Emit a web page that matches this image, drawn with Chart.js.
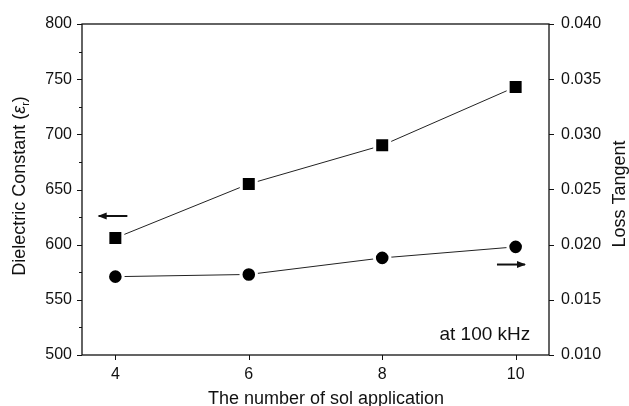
<!DOCTYPE html>
<html>
<head>
<meta charset="utf-8">
<script src="https://cdn.jsdelivr.net/npm/chart.js@4.4.1/dist/chart.umd.min.js"></script>
<style>
    html, body { margin: 0; padding: 0; background: #fff; }
    #wrap { width: 629px; height: 406px; }
</style>
</head>
<body>
<div id="wrap"><canvas id="chart" width="629" height="406"></canvas></div>
<script>
// ================= DATA =================
const solLayers = [4, 6, 8, 10];
const dielectricConst = [606, 655, 690, 743];
const lossTangent = [0.0171, 0.0173, 0.0188, 0.0198];

const xTicks = [4, 6, 8, 10];
const leftTicks = [500, 550, 600, 650, 700, 750, 800];
const leftMinor = [525, 575, 625, 675, 725, 775];
const rightTicks = [0.010, 0.015, 0.020, 0.025, 0.030, 0.035, 0.040];

const FONT = '"Liberation Sans", Arial, Helvetica, sans-serif';
const INK = '#111';

// ================= AXES / ANNOTATIONS =================
function arrow(ctx, x1, x2, y, headLeft) {
    const head = 8, half = 3.5;
    ctx.lineWidth = 2;
    ctx.beginPath();
    ctx.moveTo(x1, y);
    ctx.lineTo(x2, y);
    ctx.stroke();
    ctx.beginPath();
    if (headLeft) {
        ctx.moveTo(x1 - 1, y);
        ctx.lineTo(x1 + head, y - half);
        ctx.lineTo(x1 + head, y + half);
    } else {
        ctx.moveTo(x2 + 1, y);
        ctx.lineTo(x2 - head, y - half);
        ctx.lineTo(x2 - head, y + half);
    }
    ctx.closePath();
    ctx.fill();
}

const paperAxes = {
    id: 'paperAxes',
    afterDraw(chart) {
        const { ctx, chartArea: a, scales } = chart;
        const sx = scales.x, sl = scales.y, sr = scales.y2;
        ctx.save();
        ctx.strokeStyle = INK;
        ctx.fillStyle = INK;

        // frame
        ctx.lineWidth = 1.3;
        ctx.strokeRect(a.left, a.top, a.right - a.left, a.bottom - a.top);

        // ticks
        ctx.lineWidth = 1;
        ctx.beginPath();
        xTicks.forEach(v => {
            const px = Math.round(sx.getPixelForValue(v)) + 0.5;
            ctx.moveTo(px, a.bottom); ctx.lineTo(px, a.bottom + 5);
        });
        leftTicks.forEach(v => {
            const py = Math.round(sl.getPixelForValue(v)) + 0.5;
            ctx.moveTo(a.left - 5, py); ctx.lineTo(a.left, py);
        });
        leftMinor.forEach(v => {
            const py = Math.round(sl.getPixelForValue(v)) + 0.5;
            ctx.moveTo(a.left - 3, py); ctx.lineTo(a.left, py);
        });
        rightTicks.forEach(v => {
            const py = Math.round(sr.getPixelForValue(v)) + 0.5;
            ctx.moveTo(a.right, py); ctx.lineTo(a.right + 5, py);
        });
        ctx.stroke();

        // tick labels
        ctx.font = '16px ' + FONT;
        ctx.textBaseline = 'middle';
        ctx.textAlign = 'right';
        leftTicks.forEach(v => ctx.fillText(String(v), a.left - 10, sl.getPixelForValue(v)));
        ctx.textAlign = 'left';
        rightTicks.forEach(v => ctx.fillText(v.toFixed(3), a.right + 12, sr.getPixelForValue(v)));
        ctx.textAlign = 'center';
        ctx.textBaseline = 'alphabetic';
        xTicks.forEach(v => ctx.fillText(String(v), sx.getPixelForValue(v), a.bottom + 24));

        // axis titles
        ctx.font = '18px ' + FONT;
        ctx.fillText('The number of sol application', 326, 404);

        // left title with epsilon subscript
        ctx.save();
        ctx.translate(25, 186);
        ctx.rotate(-Math.PI / 2);
        const p1 = 'Dielectric Constant (';
        ctx.font = '18px ' + FONT;
        const w1 = ctx.measureText(p1).width;
        const wp = ctx.measureText(')').width;
        ctx.font = 'italic 18px ' + FONT;
        const we = ctx.measureText('\u03b5').width;
        ctx.font = '11px ' + FONT;
        const wr = ctx.measureText('r').width;
        let cx = -(w1 + we + wr + wp) / 2;
        ctx.textAlign = 'left';
        ctx.font = '18px ' + FONT;
        ctx.fillText(p1, cx, 0); cx += w1;
        ctx.font = 'italic 18px ' + FONT;
        ctx.fillText('\u03b5', cx, 0); cx += we;
        ctx.font = '11px ' + FONT;
        ctx.fillText('r', cx, 4); cx += wr;
        ctx.font = '18px ' + FONT;
        ctx.fillText(')', cx, 0);
        ctx.restore();

        ctx.save();
        ctx.translate(625, 194);
        ctx.rotate(-Math.PI / 2);
        ctx.textAlign = 'center';
        ctx.font = '18px ' + FONT;
        ctx.fillText('Loss Tangent', 0, 0);
        ctx.restore();

        // arrows pointing to each axis
        arrow(ctx, sx.getPixelForValue(3.75), sx.getPixelForValue(4.18), sl.getPixelForValue(626), true);
        arrow(ctx, sx.getPixelForValue(9.72), sx.getPixelForValue(10.14), sr.getPixelForValue(0.0182), false);

        // frequency note
        ctx.font = '19px ' + FONT;
        ctx.textAlign = 'right';
        ctx.textBaseline = 'alphabetic';
        ctx.fillText('at 100 kHz', sx.getPixelForValue(10.22), sl.getPixelForValue(513.6));

        ctx.restore();
    }
};

// ================= CHART =================
function init() {
    const ctx = document.getElementById('chart').getContext('2d');
    new Chart(ctx, {
        type: 'line',
        data: {
            datasets: [{
                label: 'Dielectric Constant',
                data: solLayers.map((v, i) => ({ x: v, y: dielectricConst[i] })),
                yAxisID: 'y',
                borderColor: '#222',
                borderWidth: 1,
                pointStyle: 'rect',
                pointRadius: 10.6,
                pointBackgroundColor: '#000',
                pointBorderColor: '#fff',
                pointBorderWidth: 3,
                tension: 0
            }, {
                label: 'Loss Tangent',
                data: solLayers.map((v, i) => ({ x: v, y: lossTangent[i] })),
                yAxisID: 'y2',
                borderColor: '#222',
                borderWidth: 1,
                pointStyle: 'circle',
                pointRadius: 7.8,
                pointBackgroundColor: '#000',
                pointBorderColor: '#fff',
                pointBorderWidth: 3,
                tension: 0
            }]
        },
        options: {
            responsive: false,
            animation: false,
            events: [],
            layout: { padding: { left: 82, top: 24, right: 80, bottom: 51 } },
            plugins: { legend: { display: false }, tooltip: { enabled: false } },
            scales: {
                x: { type: 'linear', min: 3.5, max: 10.5, display: false },
                y: { type: 'linear', min: 500, max: 800, display: false },
                y2: { type: 'linear', position: 'right', min: 0.010, max: 0.040, display: false }
            }
        },
        plugins: [paperAxes]
    });
}

window.addEventListener('DOMContentLoaded', init);
</script>
</body>
</html>
